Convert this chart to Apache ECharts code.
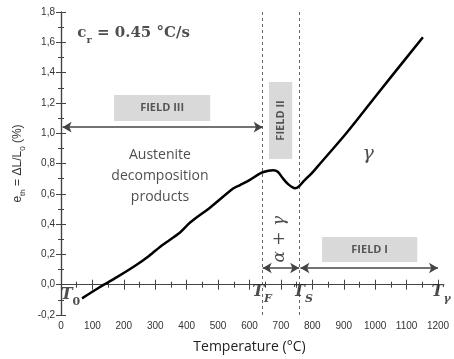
<!DOCTYPE html>
<html><head><meta charset="utf-8">
<script src="https://cdn.jsdelivr.net/npm/echarts@6/dist/echarts.min.js"></script>
<style>html,body{margin:0;padding:0;background:#fff}#c{width:454px;height:359px}</style>
</head><body><div id="c"></div><script>
// ---- data ----
const temperature = [67,124,178,236,280,325,379,411,475,548,570,600,634,660,675,690,707,722,735,745,758,771,800,825,900,962,1050,1152];
const strain = [-0.09,-0.015,0.05,0.125,0.19,0.265,0.345,0.41,0.51,0.635,0.658,0.69,0.735,0.752,0.755,0.745,0.70,0.665,0.645,0.636,0.65,0.68,0.74,0.80,0.98,1.14,1.37,1.633];
const xTickValues = [0,100,200,300,400,500,600,700,800,900,1000,1100,1200];
const yTickValues = [-0.2,0,0.2,0.4,0.6,0.8,1.0,1.2,1.4,1.6,1.8];
const T_F = 642, T_S = 758, T_GAMMA = 1200;
const fieldLabels = ['FIELD III','FIELD II','FIELD I'];

const axisColor = '#444';
const sansLabel = 'Liberation Sans';
const fmtY = v => (Math.round(v*10)/10).toFixed(1).replace('.', ',');
const fmtX = v => String(Math.round(v));

const serifRich = {
  T:{fontFamily:'DejaVu Serif',fontStyle:'italic',fontWeight:'bold',fontSize:16,color:'#222',lineHeight:20,verticalAlign:'middle'},
  s:{fontFamily:'DejaVu Serif',fontStyle:'italic',fontWeight:'bold',fontSize:11,color:'#222',lineHeight:25,verticalAlign:'bottom'},
  s0:{fontFamily:'DejaVu Serif',fontWeight:'bold',fontSize:11,color:'#222',lineHeight:25,verticalAlign:'bottom'},
  c:{fontFamily:'DejaVu Serif',fontWeight:'bold',fontSize:15,color:'#222',lineHeight:20,verticalAlign:'middle'},
  cs:{fontFamily:'DejaVu Serif',fontWeight:'bold',fontSize:10,color:'#222',lineHeight:24,verticalAlign:'bottom'}
};

const notes = [
  {value:[52,1.66], text:'{c|c}{cs|r}{c| = 0.45 °C/s}', pos:'right'},
  {value:[30,-0.07], text:'{T|T}{s0|0}', pos:'inside'},
  {value:[640,-0.05], text:'{T|T}{s|F}', pos:'inside'},
  {value:[770,-0.05], text:'{T|T}{s|S}', pos:'inside'},
  {value:[1210,-0.05], text:'{T|T}{s|γ}', pos:'inside'}
];

const chart = echarts.init(document.getElementById('c'));
const baseAxis = {
  axisLine:{show:true,lineStyle:{color:axisColor,width:1.2}},
  axisTick:{show:true,inside:true,length:5,lineStyle:{color:axisColor}},
  minorTick:{show:true,splitNumber:2,length:3,lineStyle:{color:axisColor}},
  splitLine:{show:false}
};
chart.setOption({
  animation:false,
  grid:{left:61,right:16,top:12,bottom:44,containLabel:false},
  xAxis:[
    Object.assign({type:'value',min:0,max:1200,interval:100,position:'bottom',
      name:'Temperature (°C)',nameLocation:'middle',nameGap:25,
      nameTextStyle:{fontFamily:'Open Sans',fontSize:14,color:'#222'},
      axisLabel:{fontFamily:sansLabel,fontSize:10,color:'#333',margin:6,formatter:fmtX}},baseAxis),
    Object.assign({type:'value',min:0,max:1200,interval:100,position:'top',axisLabel:{show:false}},baseAxis)
  ],
  yAxis:[
    Object.assign({type:'value',min:-0.2,max:1.8,interval:0.2,position:'left',
      name:'{n|e}{sb|th}{n| = ΔL/L}{sb|0}{n| (%)}',nameLocation:'middle',nameGap:34,
      nameTextStyle:{rich:{
        n:{fontFamily:sansLabel,fontSize:12,color:'#333',lineHeight:14,verticalAlign:'middle'},
        sb:{fontFamily:sansLabel,fontSize:8,color:'#333',lineHeight:18,verticalAlign:'bottom'}}},
      axisLabel:{fontFamily:sansLabel,fontSize:10,color:'#333',margin:6,formatter:fmtY}},baseAxis),
    Object.assign({type:'value',min:-0.2,max:1.8,interval:0.2,position:'right',axisLabel:{show:false}},baseAxis)
  ],
  series:[
    {
      type:'line', data:temperature.map((t,i)=>[t,strain[i]]),
      showSymbol:false, smooth:0.3, z:5,
      lineStyle:{color:'#000',width:2.5},
      markLine:{
        silent:true, symbol:'none', label:{show:false},
        lineStyle:{color:'#666',type:[3,3],width:1},
        data:[{xAxis:T_F},{xAxis:T_S}]
      },
      markArea:{
        silent:true,
        itemStyle:{color:'#d9d9d9'},
        label:{fontFamily:'Open Sans',fontWeight:'bold',fontSize:11,color:'#555',position:'inside'},
        data:[
          [{name:fieldLabels[0],coord:[169,1.252]},{coord:[475,1.08]}],
          [{name:fieldLabels[1],coord:[662,1.338],label:{rotate:90}},{coord:[736,0.83]}],
          [{name:fieldLabels[2],coord:[831,0.315]},{coord:[1134,0.15]}]
        ]
      }
    },
    {
      type:'line', data:[], silent:true,
      markLine:{
        silent:true, symbol:['arrow','arrow'], symbolSize:[8,9], label:{show:false},
        lineStyle:{color:'#444',type:'solid',width:1.5},
        data:[
          [{coord:[5,1.04]},{coord:[T_F,1.04]}],
          [{coord:[T_F,0.11]},{coord:[T_S,0.11]}],
          [{coord:[T_S+4,0.11]},{coord:[T_GAMMA,0.11]}]
        ]
      }
    },
    {
      type:'scatter', symbolSize:0, silent:true, z:10, clip:false,
      data:[
        {value:[315,0.715], label:{show:true,position:'inside',formatter:'Austenite\ndecomposition\nproducts',
          fontFamily:'Open Sans',fontSize:14,color:'#222',lineHeight:21,align:'center'}},
        {value:[697,0.30], label:{show:true,position:'inside',rotate:90,formatter:'α + γ',
          fontFamily:'DejaVu Serif',fontStyle:'italic',fontSize:17,color:'#222'}},
        {value:[978,0.86], label:{show:true,position:'inside',formatter:'γ',
          fontFamily:'DejaVu Serif',fontStyle:'italic',fontSize:19,color:'#222'}}
      ].concat(notes.map(n=>({value:n.value,label:{show:true,position:n.pos,distance:0,formatter:n.text,rich:serifRich}})))
    }
  ]
});
</script></body></html>
